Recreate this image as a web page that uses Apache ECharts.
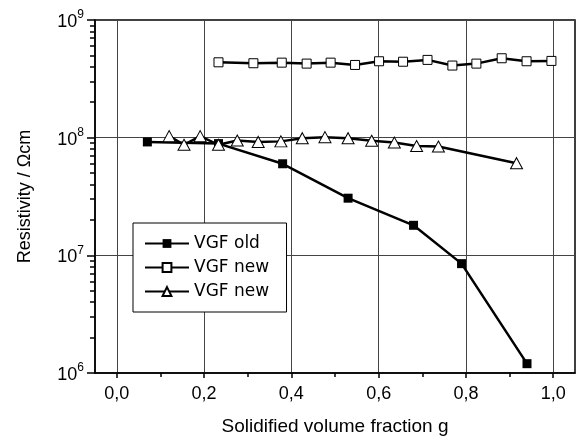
<!DOCTYPE html>
<html>
<head>
<meta charset="utf-8">
<script src="https://cdn.jsdelivr.net/npm/echarts@6/dist/echarts.min.js"></script>
<style>
  html, body { margin: 0; padding: 0; background: #fff; }
  #chart { width: 578px; height: 440px; }
</style>
</head>
<body>
<div id="chart"></div>
<script>
// values
var oldX = [0.07, 0.233, 0.38, 0.53, 0.68, 0.79, 0.94]
var oldY = [9.2e7, 8.9e7, 6.0e7, 3.06e7, 1.8e7, 8.5e6, 1.2e6]

var newSqX = [0.233, 0.313, 0.378, 0.435, 0.490, 0.546, 0.601, 0.656, 0.712, 0.769, 0.824, 0.882, 0.939, 0.996]
var newSqY = [4.37e8, 4.29e8, 4.34e8, 4.26e8, 4.34e8, 4.15e8, 4.46e8, 4.42e8, 4.58e8, 4.10e8, 4.26e8, 4.73e8, 4.46e8, 4.49e8]

var triX = [0.120, 0.154, 0.191, 0.233, 0.276, 0.324, 0.376, 0.425, 0.477, 0.530, 0.584, 0.636, 0.687, 0.737, 0.916]
var triY = [1.03e8, 8.7e7, 1.03e8, 8.7e7, 9.45e7, 9.2e7, 9.3e7, 9.9e7, 1.01e8, 9.9e7, 9.4e7, 9.08e7, 8.5e7, 8.4e7, 6.07e7]

var xMajor = [0, 0.2, 0.4, 0.6, 0.8, 1.0]
var xMinor = [0.1, 0.3, 0.5, 0.7, 0.9]
var yMajor = [1e6, 1e7, 1e8, 1e9]
var yMinor = [2e6, 3e6, 4e6, 5e6, 6e6, 7e6, 8e6, 9e6,
  2e7, 3e7, 4e7, 5e7, 6e7, 7e7, 8e7, 9e7,
  2e8, 3e8, 4e8, 5e8, 6e8, 7e8, 8e8, 9e8]

function pairs(xs, ys) {
  return xs.map(function (x, i) { return [x, ys[i]] })
}

var FONT = 'Liberation Sans'

var chart = echarts.init(document.getElementById('chart'))
chart.setOption({
  animation: false,
  grid: {
    left: 95, right: 3, top: 20, bottom: 67,
    show: true, borderColor: '#000', borderWidth: 1.5,
    outerBoundsMode: 'none'
  },
  legend: {
    orient: 'vertical',
    left: 133, top: 223,
    padding: [12, 12, 12, 11],
    itemWidth: 44, itemHeight: 11, itemGap: 7,
    backgroundColor: '#fff',
    borderColor: '#000', borderWidth: 1, borderRadius: 0,
    textStyle: { fontFamily: 'DejaVu Sans', fontSize: 17, color: '#000', padding: [0, 0, 0, 0] },
    data: ['VGF old', 'VGF new', 'VGF new ']
  },
  xAxis: [{
    type: 'value', min: -0.05, max: 1.05,
    name: 'Solidified volume fraction g',
    nameLocation: 'middle', nameGap: 44,
    nameTextStyle: { fontFamily: FONT, fontSize: 19, color: '#000' },
    axisLine: { onZero: false, lineStyle: { color: '#000', width: 1.5 } },
    axisTick: { customValues: xMajor, length: 5, lineStyle: { color: '#000', width: 1.5 } },
    axisLabel: {
      customValues: xMajor, margin: 12,
      fontFamily: FONT, fontSize: 18, color: '#000',
      formatter: function (v) { return v.toFixed(1).replace('.', ',') }
    },
    splitLine: { show: true, lineStyle: { color: '#444', width: 1 } }
  }, {
    // minor ticks only
    type: 'value', min: -0.05, max: 1.05, position: 'bottom',
    axisLine: { show: false, onZero: false },
    axisTick: { customValues: xMinor, length: 4, lineStyle: { color: '#000', width: 1.5 } },
    axisLabel: { show: false },
    splitLine: { show: false }
  }],
  yAxis: [{
    type: 'log', logBase: 10, min: 1e6, max: 1e9,
    name: 'Resistivity / Ωcm',
    nameLocation: 'middle', nameGap: 61,
    nameTextStyle: { fontFamily: FONT, fontSize: 18, color: '#000' },
    axisLine: { show: true, onZero: false, lineStyle: { color: '#000', width: 1.5 } },
    axisTick: { customValues: yMajor, length: 8, lineStyle: { color: '#000', width: 1.5 } },
    axisLabel: {
      customValues: yMajor, margin: 11,
      formatter: function (v) {
        return '{b|10}{s|' + Math.round(Math.log10(v)) + '}'
      },
      rich: {
        b: { fontFamily: FONT, fontSize: 18, color: '#000', verticalAlign: 'bottom' },
        s: { fontFamily: FONT, fontSize: 12, color: '#000', verticalAlign: 'top', padding: [0, 0, 10, 0] }
      }
    },
    splitLine: { show: true, lineStyle: { color: '#444', width: 1 } }
  }, {
    // minor log ticks only (exponent units)
    type: 'value', min: 6, max: 9, position: 'left',
    axisLine: { show: false, onZero: false },
    axisTick: { customValues: yMinor.map(Math.log10), length: 5, lineStyle: { color: '#000', width: 1.5 } },
    axisLabel: { show: false },
    splitLine: { show: false }
  }],
  series: [{
    name: 'VGF old',
    type: 'line',
    data: pairs(oldX, oldY),
    symbol: 'rect', symbolSize: 9,
    itemStyle: { color: '#000' },
    lineStyle: { color: '#000', width: 2.5 }
  }, {
    name: 'VGF new',
    type: 'line',
    data: pairs(newSqX, newSqY),
    symbol: 'rect', symbolSize: 9,
    itemStyle: { color: '#fff', borderColor: '#000', borderWidth: 1 },
    lineStyle: { color: '#000', width: 2.5 }
  }, {
    name: 'VGF new ',
    type: 'line',
    data: pairs(triX, triY),
    symbol: 'triangle', symbolSize: [12, 11],
    itemStyle: { color: '#fff', borderColor: '#000', borderWidth: 1 },
    lineStyle: { color: '#000', width: 2.5 }
  }]
})
</script>
</body>
</html>
